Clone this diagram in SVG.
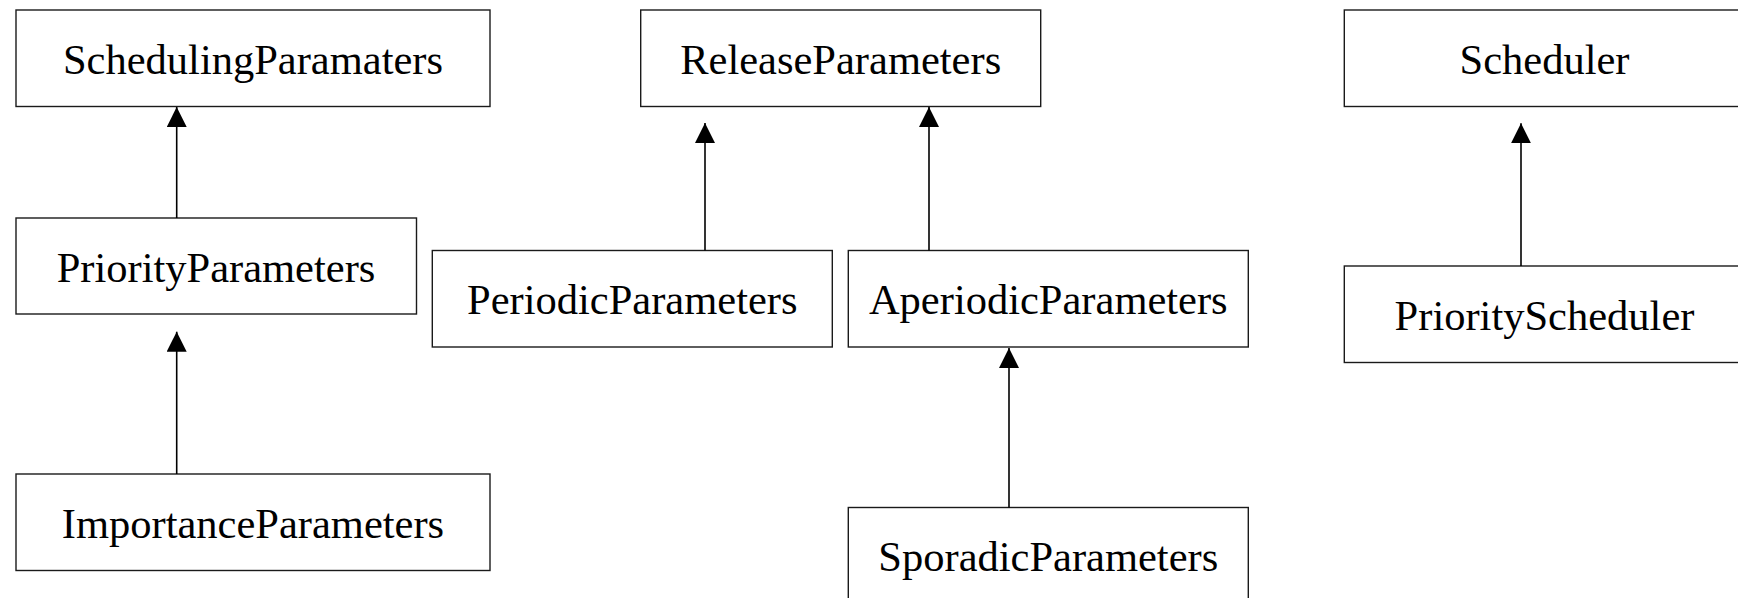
<svg xmlns="http://www.w3.org/2000/svg" width="1738" height="598" viewBox="0 0 1738 598">
<style>
.box{fill:#fff;stroke:#1a1a1a;stroke-width:1.4}
.lbl{font-family:"Liberation Serif","Times New Roman",serif;font-size:42.5px;fill:#000;text-anchor:middle}
.edge{stroke:#000;stroke-width:1.6;fill:none}
</style>
<defs>
<marker id="tri" viewBox="0 0 20 20" refX="20" refY="10" markerWidth="20" markerHeight="20" markerUnits="userSpaceOnUse" orient="auto">
<path d="M0,0 L20,10 L0,20 Z" fill="#000"/>
</marker>
</defs>
<rect width="1738" height="598" fill="#fff"/>
<g id="SchedulingParamaters"><rect class="box" x="16" y="10" width="474" height="96.5"/><text class="lbl" x="253" y="73.5">SchedulingParamaters</text></g>
<g id="PriorityParameters"><rect class="box" x="16" y="218" width="400.5" height="96"/><text class="lbl" x="216" y="281.5">PriorityParameters</text></g>
<g id="ImportanceParameters"><rect class="box" x="16" y="474" width="474" height="96.5"/><text class="lbl" x="253" y="537.5">ImportanceParameters</text></g>
<g id="ReleaseParameters"><rect class="box" x="640.7" y="10" width="400" height="96.5"/><text class="lbl" x="840.7" y="73.5">ReleaseParameters</text></g>
<g id="PeriodicParameters"><rect class="box" x="432.3" y="250.5" width="400" height="96.5"/><text class="lbl" x="632.3" y="313.5">PeriodicParameters</text></g>
<g id="AperiodicParameters"><rect class="box" x="848.3" y="250.5" width="400" height="96.5"/><text class="lbl" x="1048.3" y="313.5">AperiodicParameters</text></g>
<g id="SporadicParameters"><rect class="box" x="848.3" y="507.5" width="400" height="96.5"/><text class="lbl" x="1048.3" y="571">SporadicParameters</text></g>
<g id="Scheduler"><rect class="box" x="1344.3" y="10" width="400" height="96.5"/><text class="lbl" x="1544.5" y="73.5">Scheduler</text></g>
<g id="PriorityScheduler"><rect class="box" x="1344.3" y="266" width="400" height="96.5"/><text class="lbl" x="1544.5" y="329.5">PriorityScheduler</text></g>
<g id="connectors">
<line class="edge" x1="176.7" y1="218" x2="176.7" y2="107" marker-end="url(#tri)"/>
<line class="edge" x1="176.7" y1="474" x2="176.7" y2="331.7" marker-end="url(#tri)"/>
<line class="edge" x1="705" y1="250.5" x2="705" y2="123" marker-end="url(#tri)"/>
<line class="edge" x1="929" y1="250.5" x2="929" y2="107" marker-end="url(#tri)"/>
<line class="edge" x1="1009" y1="507.5" x2="1009" y2="348" marker-end="url(#tri)"/>
<line class="edge" x1="1521" y1="266" x2="1521" y2="123.3" marker-end="url(#tri)"/>
</g>
</svg>
